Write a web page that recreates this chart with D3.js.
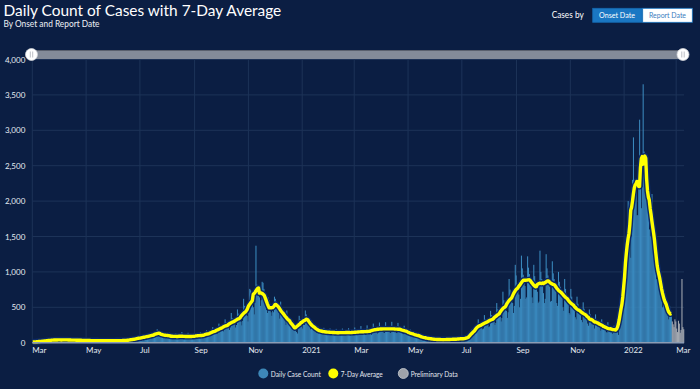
<!DOCTYPE html>
<html>
<head>
<meta charset="utf-8">
<script src="https://cdn.jsdelivr.net/npm/d3@7"></script>
<style>
  html, body { margin: 0; padding: 0; background: #0b1e43; }
  svg { display: block; font-family: Lato, "Open Sans", sans-serif; }
</style>
</head>
<body>
<svg id="chart" width="700" height="389"></svg>
<script>
// daily case counts by onset date, one array per month
const mar2020 = [9,12,14,11,15,13,10, 16,22,19,24,21,20,18, 26,33,30,35,29,31,27, 30,42,40,44,37,39,33, 35,45,41];
const apr2020 = [43,40,38,34, 31,47,44,42,40,38,34, 30,44,41,38,37,35,32, 28,42,39,36,35,33,30, 26,39,36,34,32];
const may2020 = [30,27, 24,37,34,31,30,28,25, 22,35,32,29,28,26,24, 22,34,31,30,27,26,23, 21,33,31,28,27,25,23, 22];
const jun2020 = [35,32,29,28,26,24, 23,37,34,31,30,29,26, 27,42,39,37,35,34,31, 38,58,55,52,50,47,44, 52,80,76];
const jul2020 = [72,68,64,55, 66,102,96,90,86,80,73, 82,128,120,112,106,98,90, 100,190,150,140,130,115,105, 85,130,120,112,104,95];
const aug2020 = [88, 70,140,104,96,90,74,62, 68,135,102,94,88,70,60, 70,150,104,96,90,66,54, 68,140,102,94,88,68,56, 72,135];
const sep2020 = [108,100,94,86,76, 78,150,115,104,98,92,80, 95,175,145,130,122,112,100, 120,220,185,170,155,145,125, 150,270,230,215];
const oct2020 = [200,185,160, 180,330,290,260,240,215,180, 215,420,350,310,285,260,215, 250,470,410,370,340,300,245, 310,620,520,470,430,380,300];
const nov2020 = [420,760,740,650,560,500,400, 560,1370,820,760,700,640,520, 600,860,847,760,650,560,460, 420,640,600,520,430,380,450, 430,650];
const dec2020 = [620,580,560,500,420, 340,580,500,450,420,380,310, 250,455,380,340,310,280,230, 190,300,260,240,200,150,130, 220,380,330,310,280];
const jan2021 = [200,260, 250,455,400,350,320,290,240, 190,320,270,240,220,200,170, 140,230,200,180,165,150,130, 120,210,175,160,150,135,115, 115];
const feb2021 = [200,170,155,140,130,110, 108,195,165,148,138,125,105, 110,200,168,150,140,125,107, 110,205,170,150,140,125,100, 115];
const mar2021 = [215,175,155,145,130,110, 115,235,180,160,148,130,110, 118,245,185,165,155,135,112, 135,270,215,195,180,160,130, 145,285,230,205];
const apr2021 = [190,170,140, 140,290,230,205,190,170,140, 140,295,225,205,190,168,140, 135,280,225,200,185,165,135, 120,240,195,175,160,140];
const may2021 = [115, 95,185,150,135,125,110,90, 75,150,120,108,100,88,70, 52,105,85,75,70,62,50, 42,82,66,60,55,48,38, 35,60];
const jun2021 = [55,50,46,42,35, 32,62,50,46,42,37,30, 34,66,54,49,45,40,33, 36,70,58,52,48,43,35, 40,80,66,60];
const jul2021 = [56,50,40, 45,80,75,72,78,85,70, 90,190,170,160,170,180,150, 170,330,280,250,240,230,190, 200,390,330,300,290,270,220];
const aug2021 = [230,450,390,350,330,300,250, 280,560,470,420,400,370,300, 350,720,600,530,500,450,350, 430,900,750,660,620,560,420, 520,1100,950];
const sep2021 = [820,760,680,500, 620,1230,1050,960,880,800,620, 640,1220,1060,970,890,810,640, 560,1100,940,860,790,720,560, 580,1300,1000,900,820];
const oct2021 = [700,560, 620,1250,1050,950,870,790,580, 590,1150,980,900,820,740,560, 520,1000,860,790,720,650,500, 450,900,760,690,630,560,420, 400];
const nov2021 = [760,650,590,540,480,360, 330,650,550,500,460,410,320, 290,570,480,430,400,360,270, 240,470,400,360,260,300,280, 200,400,320];
const dec2021 = [290,270,250,230, 170,330,280,250,230,200,150, 140,290,240,210,190,170,125, 160,240,210,200,190,150,110, 260,420,520,650,720,680];
const jan2022 = [560, 1000,1400,1500,2000,1700,1500,1200, 1500,2300,2900,2300,2300,2200,1800, 1800,2400,3150,2200,1900,2200,3650, 2700,2600,2400,2600,2300,2000,1600, 1500,2000];
const feb2022 = [2100,1800,1700,1300,1000, 900,1300,1200,1000,900,800,600, 500,800,700,600,550,480,380, 330,520,420,380];
// preliminary data, Feb 24 - Mar 9 2022
const preliminary = [300,260,220,330,300,200,150,310,270,140,180,900,220,190];

const yTicks = [0, 500, 1000, 1500, 2000, 2500, 3000, 3500, 4000];
const legendItems = ['Daily Case Count', '7-Day Average', 'Preliminary Data'];

const months = [mar2020, apr2020, may2020, jun2020, jul2020, aug2020, sep2020, oct2020, nov2020, dec2020,
                jan2021, feb2021, mar2021, apr2021, may2021, jun2021, jul2021, aug2021, sep2021, oct2021, nov2021, dec2021,
                jan2022, feb2022];

const start = new Date(Date.UTC(2020, 2, 1));
const daily = [].concat(...months).map((v, i) => ({date: d3.utcDay.offset(start, i), value: v}));
const prelim = preliminary.map((v, i) => ({date: d3.utcDay.offset(start, daily.length + i), value: v}));

// centred 7-day average
const avg = daily.map((d, i) => {
  const win = daily.slice(Math.max(0, i - 3), i + 4);
  return {date: d.date, value: d3.mean(win, w => w.value)};
});

const svg = d3.select('#chart');
const plotLeft = 32.3, plotRight = 684.1, plotTop = 59.5, plotBottom = 342.7;

const x = d3.scaleUtc()
  .domain([start, new Date(Date.UTC(2022, 2, 10))])
  .range([plotLeft, plotRight]);
const y = d3.scaleLinear().domain([0, 4000]).range([plotBottom, plotTop]);
const dayW = x(d3.utcDay.offset(start, 1)) - x(start);

svg.append('rect').attr('width', 700).attr('height', 389).attr('fill', '#0b1e43');

function fit(sel, w) {
  const fs = parseFloat(sel.attr('font-size'));
  sel.attr('font-size', fs * w / sel.node().getComputedTextLength());
  return sel;
}

// titles
fit(svg.append('text').attr('x', 3.5).attr('y', 15.5).attr('font-size', 15)
  .attr('fill', '#fff').text('Daily Count of Cases with 7-Day Average'), 278);
svg.append('text').attr('x', 3.5).attr('y', 27.3).attr('font-size', 9)
  .attr('textLength', 96).attr('lengthAdjust', 'spacingAndGlyphs')
  .attr('fill', '#eef1f6').text('By Onset and Report Date');

// "Cases by" toggle
svg.append('text').attr('x', 551.7).attr('y', 18).attr('font-size', 9.5)
  .attr('textLength', 32).attr('lengthAdjust', 'spacingAndGlyphs')
  .attr('fill', '#fff').text('Cases by');
svg.append('rect').attr('x', 592.7).attr('y', 8.3).attr('width', 49.5).attr('height', 14)
  .attr('fill', '#1a77c3').attr('stroke', '#1467ad').attr('stroke-width', 0.8);
svg.append('rect').attr('x', 642.7).attr('y', 8.3).attr('width', 49.6).attr('height', 14)
  .attr('fill', '#fff').attr('stroke', '#1a77c3').attr('stroke-width', 0.8);
svg.append('text').attr('x', 599).attr('y', 18.2).attr('font-size', 8)
  .attr('textLength', 36).attr('lengthAdjust', 'spacingAndGlyphs')
  .attr('fill', '#fff').text('Onset Date');
svg.append('text').attr('x', 649).attr('y', 18.2).attr('font-size', 8)
  .attr('textLength', 37).attr('lengthAdjust', 'spacingAndGlyphs')
  .attr('fill', '#3a7cc0').text('Report Date');

// grid
const xTicks = x.ticks(d3.utcMonth.every(2));
svg.append('g').selectAll('line').data(yTicks).join('line')
  .attr('x1', plotLeft).attr('x2', plotRight)
  .attr('y1', d => y(d)).attr('y2', d => y(d))
  .attr('stroke', '#1d3358').attr('stroke-width', 1);
svg.append('g').selectAll('line').data(xTicks).join('line')
  .attr('x1', d => x(d)).attr('x2', d => x(d))
  .attr('y1', plotTop).attr('y2', plotBottom)
  .attr('stroke', '#1d3358').attr('stroke-width', 1);

// bars
svg.append('g').selectAll('rect').data(daily).join('rect')
  .attr('x', d => x(d.date))
  .attr('y', d => y(d.value))
  .attr('width', dayW + 0.15)
  .attr('height', d => plotBottom - y(d.value))
  .attr('fill', '#3b8abf');
svg.append('g').selectAll('rect').data(prelim).join('rect')
  .attr('x', d => x(d.date))
  .attr('y', d => y(d.value))
  .attr('width', dayW + 0.15)
  .attr('height', d => plotBottom - y(d.value))
  .attr('fill', '#a9adb4');

// 7-day average line
const line = d3.line().x(d => x(d.date) + dayW / 2).y(d => y(d.value));
svg.append('path').datum(avg).attr('d', line)
  .attr('fill', 'none').attr('stroke', '#0d2a66').attr('stroke-width', 6.2).attr('stroke-linejoin', 'round');
svg.append('path').datum(avg).attr('d', line)
  .attr('fill', 'none').attr('stroke', '#ffff00').attr('stroke-width', 3.4).attr('stroke-linejoin', 'round');

// axes
svg.append('line').attr('x1', plotLeft).attr('x2', plotRight).attr('y1', plotBottom).attr('y2', plotBottom)
  .attr('stroke', '#8c9cb4').attr('stroke-width', 1.5);

const yAxis = svg.append('g').attr('transform', `translate(${plotLeft},0)`)
  .call(d3.axisLeft(y).tickValues(yTicks).tickFormat(d3.format(',')).tickSize(0).tickPadding(7));
yAxis.select('.domain').remove();
yAxis.selectAll('text').attr('fill', '#e6ebf2').attr('font-size', 8).attr('font-family', 'Lato');

const xAxis = svg.append('g').attr('transform', `translate(0,${plotBottom})`)
  .call(d3.axisBottom(x).tickValues(xTicks).tickSize(0).tickPadding(5)
    .tickFormat(d => d.getUTCMonth() === 0 ? d3.utcFormat('%Y')(d) : d3.utcFormat('%b')(d)));
xAxis.select('.domain').remove();
xAxis.selectAll('text').attr('fill', '#e6ebf2').attr('font-size', 8).attr('font-family', 'Lato')
  .attr('text-anchor', 'start').attr('dx', -0.5);

// range slider
svg.append('rect').attr('x', plotLeft).attr('y', 50.5).attr('width', 651).attr('height', 8.5)
  .attr('fill', '#838b99');
svg.append('line').attr('x1', plotLeft).attr('x2', 683).attr('y1', 50.5).attr('y2', 50.5)
  .attr('stroke', '#59606e').attr('stroke-width', 1);
[31.5, 683].forEach(cx => {
  svg.append('circle').attr('cx', cx).attr('cy', 54.5).attr('r', 6)
    .attr('fill', '#fff').attr('stroke', '#d0d3d8').attr('stroke-width', 0.8);
  [-1.2, 1.2].forEach(o => svg.append('line')
    .attr('x1', cx + o).attr('x2', cx + o).attr('y1', 51.5).attr('y2', 57.5)
    .attr('stroke', '#b5b9c0').attr('stroke-width', 0.9));
});

// legend
const legColors = ['#3d87b8', '#ffff00', '#9ea2a9'];
const legX = [263.3, 333.3, 403.3];
const legW = [50, 42, 47];
legendItems.forEach((name, i) => {
  svg.append('circle').attr('cx', legX[i]).attr('cy', 373.5).attr('r', 5)
    .attr('fill', legColors[i]).attr('stroke', i === 2 ? '#c8cbd0' : 'none').attr('stroke-width', 0.8);
  svg.append('text').attr('x', legX[i] + 7.5).attr('y', 376.5).attr('font-size', 8)
    .attr('textLength', legW[i]).attr('lengthAdjust', 'spacingAndGlyphs')
    .attr('fill', '#e3e8f0').text(name);
});
</script>
</body>
</html>
